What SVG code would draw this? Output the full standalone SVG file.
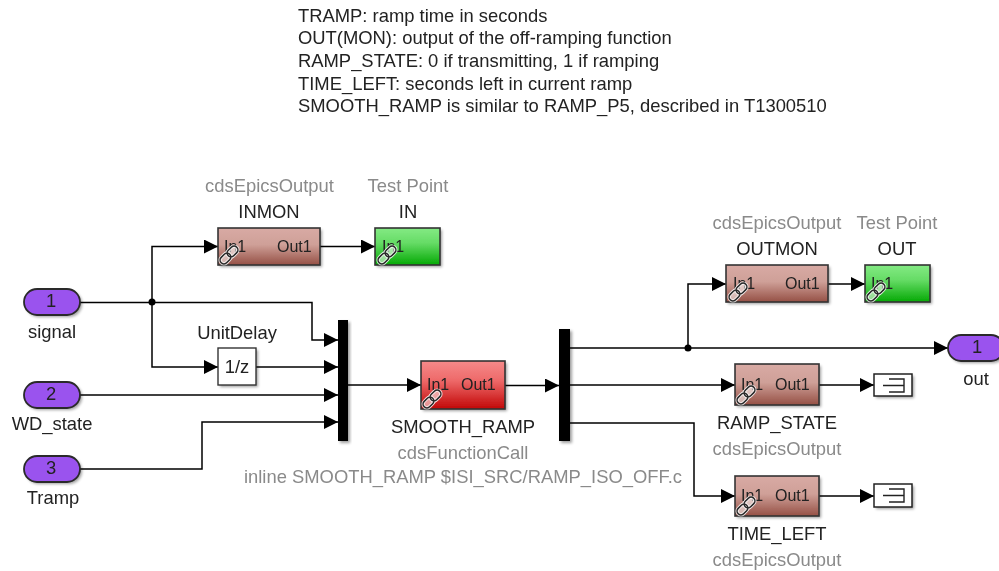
<svg xmlns="http://www.w3.org/2000/svg" width="999" height="571" viewBox="0 0 999 571">
<style>
text{font-family:"Liberation Sans",Arial,sans-serif;font-size:18.4px;fill:#222}
.m{text-anchor:middle}
.g{fill:#8a8a8a}
.i{font-size:16px;fill:#222}
.w{fill:none;stroke:#000;stroke-width:1.5}
.b{stroke:#333;stroke-width:1.6}
.port{fill:#9a52ee;stroke:#2a2a2a;stroke-width:1.8}
.sh{fill:#000;opacity:.38;filter:url(#blur)}
.term{fill:#fff;stroke:#222;stroke-width:1.5}
.tl{fill:none;stroke:#222;stroke-width:1.4}
</style>
<defs>
<filter id="blur" x="-20%" y="-20%" width="140%" height="140%"><feGaussianBlur stdDeviation="1.4"/></filter>
<filter id="soft" x="0" y="0" width="100%" height="100%" filterUnits="userSpaceOnUse"><feGaussianBlur stdDeviation="0.35"/></filter>
<linearGradient id="brown" x1="0" y1="0" x2="0" y2="1"><stop offset="0" stop-color="#d8aaa4"/><stop offset=".45" stop-color="#cfa098"/><stop offset="1" stop-color="#955045"/></linearGradient>
<linearGradient id="green" x1="0" y1="0" x2="0" y2="1"><stop offset="0" stop-color="#84ea84"/><stop offset=".4" stop-color="#66dc66"/><stop offset="1" stop-color="#06a906"/></linearGradient>
<linearGradient id="red" x1="0" y1="0" x2="0" y2="1"><stop offset="0" stop-color="#f58a8a"/><stop offset=".4" stop-color="#ee6a6a"/><stop offset="1" stop-color="#c20808"/></linearGradient>
<marker id="a" viewBox="0 0 14 14" refX="14" refY="7" markerWidth="14" markerHeight="14" markerUnits="userSpaceOnUse" orient="auto"><path d="M0 0L14 7L0 14Z" fill="#000"/></marker>
<g id="link">
<g fill="none" transform="rotate(-45)">
<rect x="-11.500" y="-5" width="23" height="10" rx="5" fill="#fff" opacity=".55"/>
<g stroke="#fff" stroke-width="3.400" opacity=".75"><rect x="-11" y="-3.800" width="12" height="7.600" rx="3.800"/><rect x="-1" y="-3.800" width="12" height="7.600" rx="3.800"/></g>
<g stroke="#262626" stroke-width="1.500"><rect x="-11" y="-3.800" width="12" height="7.600" rx="3.800"/><rect x="-1" y="-3.800" width="12" height="7.600" rx="3.800"/></g>
</g>
</g>
<path id="termIcon" class="tl" d="M15 5H30V18H15M9 11.500H30"/>
</defs>

<g id="diagram" filter="url(#soft)">
<g id="notes">
<text x="298" y="22">TRAMP: ramp time in seconds</text>
<text x="298" y="44">OUT(MON): output of the off-ramping function</text>
<text x="298" y="67">RAMP_STATE: 0 if transmitting, 1 if ramping</text>
<text x="298" y="90">TIME_LEFT: seconds left in current ramp</text>
<text x="298" y="112">SMOOTH_RAMP is similar to RAMP_P5, described in T1300510</text>
</g>

<g id="connectors">
<path class="w" d="M80 302.500H312V340H338" marker-end="url(#a)"/>
<path class="w" d="M152 302.500V246.500H218" marker-end="url(#a)"/>
<path class="w" d="M152 302.500V367H218" marker-end="url(#a)"/>
<path class="w" d="M320 246.500H375" marker-end="url(#a)"/>
<path class="w" d="M256 367H338" marker-end="url(#a)"/>
<path class="w" d="M80 395H338" marker-end="url(#a)"/>
<path class="w" d="M80 469H202V422H338" marker-end="url(#a)"/>
<path class="w" d="M348 385H421" marker-end="url(#a)"/>
<path class="w" d="M505 385.500H559" marker-end="url(#a)"/>
<path class="w" d="M570 348H948" marker-end="url(#a)"/>
<path class="w" d="M688 348V284H726" marker-end="url(#a)"/>
<path class="w" d="M828 284H865" marker-end="url(#a)"/>
<path class="w" d="M570 385H735" marker-end="url(#a)"/>
<path class="w" d="M819 385H874" marker-end="url(#a)"/>
<path class="w" d="M570 423H694V496H735" marker-end="url(#a)"/>
<path class="w" d="M819 496H874" marker-end="url(#a)"/>
<circle cx="152" cy="302" r="3.500"/>
<circle cx="688" cy="348" r="3.500"/>
</g>

<g id="signal"><rect class="sh" x="26" y="291" width="56" height="26" rx="13"/><rect class="port" x="24" y="289" width="56" height="26" rx="13"/><text class="m" x="51" y="307">1</text><text class="m" x="52" y="338">signal</text></g>
<g id="WD_state"><rect class="sh" x="26" y="384" width="56" height="26" rx="13"/><rect class="port" x="24" y="382" width="56" height="26" rx="13"/><text class="m" x="51" y="400">2</text><text class="m" x="52" y="430">WD_state</text></g>
<g id="Tramp"><rect class="sh" x="26" y="458" width="56" height="26" rx="13"/><rect class="port" x="24" y="456" width="56" height="26" rx="13"/><text class="m" x="51" y="474">3</text><text class="m" x="53" y="504">Tramp</text></g>
<g id="out"><rect class="sh" x="950" y="337" width="56" height="26" rx="13"/><rect class="port" x="948" y="335" width="56" height="26" rx="13"/><text class="m" x="977" y="353">1</text><text class="m" x="976" y="385">out</text></g>

<g id="INMON"><rect class="sh" x="220" y="230" width="102" height="37"/><rect class="b" fill="url(#brown)" x="218" y="228" width="102" height="37"/><text class="i" x="224" y="252">In1</text><text class="i" x="277" y="252">Out1</text><use href="#link" x="229" y="255"/><text class="m g" x="269.500" y="192">cdsEpicsOutput</text><text class="m" x="269" y="218">INMON</text></g>
<g id="IN"><rect class="sh" x="377" y="230" width="65" height="37"/><rect class="b" fill="url(#green)" x="375" y="228" width="65" height="37"/><text class="i" x="382" y="252">In1</text><use href="#link" x="387" y="255"/><text class="m g" x="408" y="192">Test Point</text><text class="m" x="408" y="218">IN</text></g>

<g id="UnitDelay"><rect class="sh" x="220" y="350" width="38" height="37"/><rect fill="#fff" stroke="#333" stroke-width="1.4" x="218" y="348" width="38" height="37"/><text class="m" x="237" y="373">1/z</text><text class="m" x="237" y="339">UnitDelay</text></g>
<g id="mux"><rect class="sh" x="340" y="322" width="10" height="121"/><rect x="338" y="320" width="10" height="121"/></g>

<g id="SMOOTH_RAMP"><rect class="sh" x="423" y="363" width="84" height="48"/><rect class="b" fill="url(#red)" x="421" y="361" width="84" height="48"/><text class="i" x="427" y="390">In1</text><text class="i" x="461" y="390">Out1</text><use href="#link" x="432" y="399"/><text class="m" x="463" y="433">SMOOTH_RAMP</text><text class="m g" x="463" y="459">cdsFunctionCall</text><text class="m g" x="463" y="483">inline SMOOTH_RAMP $ISI_SRC/RAMP_ISO_OFF.c</text></g>
<g id="demux"><rect class="sh" x="561" y="331" width="11" height="112"/><rect x="559" y="329" width="11" height="112"/></g>

<g id="OUTMON"><rect class="sh" x="728" y="267" width="102" height="37"/><rect class="b" fill="url(#brown)" x="726" y="265" width="102" height="37"/><text class="i" x="733" y="289">In1</text><text class="i" x="785" y="289">Out1</text><use href="#link" x="738" y="292"/><text class="m g" x="777" y="229">cdsEpicsOutput</text><text class="m" x="777" y="255">OUTMON</text></g>
<g id="OUT"><rect class="sh" x="867" y="267" width="65" height="37"/><rect class="b" fill="url(#green)" x="865" y="265" width="65" height="37"/><text class="i" x="871" y="289">In1</text><use href="#link" x="876" y="292"/><text class="m g" x="897" y="229">Test Point</text><text class="m" x="897" y="255">OUT</text></g>

<g id="RAMP_STATE"><rect class="sh" x="737" y="366" width="84" height="41"/><rect class="b" fill="url(#brown)" x="735" y="364" width="84" height="41"/><text class="i" x="741" y="390">In1</text><text class="i" x="775" y="390">Out1</text><use href="#link" x="746" y="395"/><text class="m" x="777" y="429">RAMP_STATE</text><text class="m g" x="777" y="455">cdsEpicsOutput</text></g>
<g id="TIME_LEFT"><rect class="sh" x="737" y="478" width="84" height="40"/><rect class="b" fill="url(#brown)" x="735" y="476" width="84" height="40"/><text class="i" x="741" y="501">In1</text><text class="i" x="775" y="501">Out1</text><use href="#link" x="746" y="506"/><text class="m" x="777" y="540">TIME_LEFT</text><text class="m g" x="777" y="566">cdsEpicsOutput</text></g>

<g id="term1"><rect class="sh" x="876" y="376" width="38" height="22"/><rect class="term" x="874" y="374" width="38" height="22"/><use href="#termIcon" x="874" y="374"/></g>
<g id="term2"><rect class="sh" x="876" y="486" width="38" height="23"/><rect class="term" x="874" y="484" width="38" height="23"/><use href="#termIcon" x="874" y="484"/></g>
</g>
</svg>
